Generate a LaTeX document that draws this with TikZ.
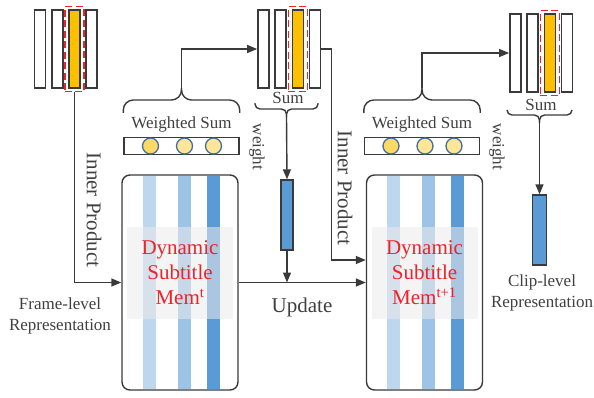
\documentclass[tikz,border=0pt]{standalone}
\usepackage{fontspec}
\setmainfont{Liberation Serif}
\usetikzlibrary{positioning,calc,arrows.meta}
\definecolor{lineg}{HTML}{3A3A3A}
\definecolor{txtg}{HTML}{404040}
\definecolor{selred}{HTML}{EE2229}
\definecolor{goldbar}{HTML}{FFC000}
\definecolor{colA}{HTML}{BDD7EE}
\definecolor{colB}{HTML}{9DC3E6}
\definecolor{colC}{HTML}{5B9BD5}
\definecolor{dotA}{HTML}{FFD966}
\definecolor{dotB}{HTML}{FFE699}
\definecolor{dotedge}{HTML}{41719C}
\definecolor{veilgray}{HTML}{EBEBEB}
\tikzset{
    featbar/.style={ % one feature column
        draw=lineg,
        line width=1.7pt,
        fill=white,
        minimum width=11pt,
        minimum height=78pt,
        inner sep=0pt
    },
    selbar/.style={featbar, fill=goldbar},
    selbox/.style={
        draw=selred,
        line width=1.5pt,
        dash pattern=on 7pt off 3.5pt,
        minimum width=19pt,
        minimum height=85pt,
        inner sep=0pt
    },
    wsbox/.style={draw=lineg, line width=1.4pt, fill=white, minimum width=115pt, minimum height=17pt, inner sep=0pt},
    dotnode/.style={draw=dotedge, line width=1.3pt, circle, minimum size=16pt, inner sep=0pt},
    membox/.style={draw=lineg, line width=1.4pt, fill=white, rounded corners=8pt, minimum width=116pt, minimum height=215pt, inner sep=0pt},
    memcol/.style={minimum width=13pt, minimum height=213pt, inner sep=0pt},
    veil/.style={fill=veilgray, fill opacity=0.55, minimum width=106pt, minimum height=92pt, inner sep=0pt},
    memtext/.style={text=selred, align=center, font=\fontsize{21}{25}\selectfont},
    vecbar/.style={draw=lineg, line width=1.4pt, fill=colC, minimum width=12pt, minimum height=70pt, inner sep=0pt},
    lbl/.style={font=\fontsize{17}{21}\selectfont, align=center},
    biglbl/.style={font=\fontsize{21}{25}\selectfont},
    conn/.style={draw=lineg, line width=1.4pt, -{Triangle[length=10pt,width=8pt]}},
    bracepath/.style={draw=lineg, line width=1.4pt}
}
\begin{document}
\begin{tikzpicture}[x=1pt,y=-1pt,text=txtg]
    \useasboundingbox (0,0) rectangle (594,397);

    % frame-level features
    \node[featbar] (f1a) at (40,49) {};
    \node[featbar, right=4.5pt of f1a] (f1b) {};
    \node[selbar, right=4.5pt of f1b] (f1c) {};
    \node[featbar, right=4.5pt of f1c] (f1d) {};
    \node[selbox] (sel1) at (f1c) {};

    % memory slots after first read
    \node[featbar] (f2a) at (263.5,49) {};
    \node[featbar, right=4.5pt of f2a] (f2b) {};
    \node[selbar, right=4.5pt of f2b] (f2c) {};
    \node[featbar, right=4.5pt of f2c] (f2d) {};
    \node[selbox] (sel2) at (f2c) {};

    % memory slots after second read
    \node[featbar] (f3a) at (515.5,53) {};
    \node[featbar, right=4.5pt of f3a] (f3b) {};
    \node[selbar, right=4.5pt of f3b] (f3c) {};
    \node[featbar, right=4.5pt of f3c] (f3d) {};
    \node[selbox] (sel3) at (f3c) {};

    % memories
    \foreach \m/\x in {1/180,2/424.5}{
        \node[membox] (mem\m) at (\x,282.5) {};
        \node[memcol, fill=colA] (c\m a) at ([xshift=-31pt]mem\m.center) {};
        \node[memcol, fill=colB] (c\m b) at ([xshift=4pt]mem\m.center) {};
        \node[memcol, fill=colC] (c\m c) at ([xshift=33pt]mem\m.center) {};
        \node[veil] (ov\m) at ([yshift=9.5pt]mem\m.center) {};
    }
    \node[memtext] (mt1) at (ov1) {Dynamic\\Subtitle\\Mem\textsuperscript{t}};
    \node[memtext] (mt2) at (ov2) {Dynamic\\Subtitle\\Mem\textsuperscript{t+1}};

    % weight vectors
    \foreach \w/\x in {1/181.5,2/422}{
        \node[wsbox] (ws\w) at (\x,146) {};
        \node[dotnode, fill=dotA] (d\w a) at ([xshift=-31pt]ws\w.center) {};
        \node[dotnode, fill=dotB] (d\w b) at ([xshift=3pt]ws\w.center) {};
        \node[dotnode, fill=dotB] (d\w c) at ([xshift=32pt]ws\w.center) {};
        \node[lbl, above=1pt of ws\w] (wsl\w) {Weighted Sum};
        \coordinate (wt\w) at (\x,88);
        \draw[bracepath, rounded corners=10pt] ([yshift=24pt]ws\w.north west) |- (\x,100) -- (wt\w);
        \draw[bracepath, rounded corners=10pt] ([yshift=24pt]ws\w.north east) |- (\x,100) -- (wt\w);
    }

    % sum braces
    \node[lbl] (sum2) at (288,98) {Sum};
    \coordinate (st2) at (286.5,117);
    \draw[bracepath, rounded corners=5pt] (255,103) |- (286.5,109) -- (st2);
    \draw[bracepath, rounded corners=5pt] (318,103) |- (286.5,109) -- (st2);
    \node[lbl] (sum3) at (541,105) {Sum};
    \coordinate (st3) at (539.5,123);
    \draw[bracepath, rounded corners=5pt] (507,110) |- (539.5,115) -- (st3);
    \draw[bracepath, rounded corners=5pt] (572,110) |- (539.5,115) -- (st3);

    % read-out vectors
    \node[vecbar] (vec1) at (287,215) {};
    \node[vecbar, minimum width=14pt] (vec2) at (539.5,230) {};

    % labels
    \node[biglbl, rotate=-90] (ip1) at (94,210) {Inner Product};
    \node[biglbl, rotate=-90] (ip2) at (345,188) {Inner Product};
    \node[lbl, rotate=-90] (wl1) at (257,147) {weight};
    \node[lbl, rotate=-90] (wl2) at (497,147) {weight};
    \node[biglbl] (upd) at (302,307) {Update};
    \node[lbl] (frl) at (60,316) {Frame-level\\Representation};
    \node[lbl] (cll) at (542,293) {Clip-level\\Representation};

    % connectors
    \draw[conn] (sel1.south) |- (mem1.west);
    \draw[conn] (wt1) |- (f2a.west);
    \draw[conn] (f2d.east) -- ++(10,0) |- ([yshift=22.5pt]mem2.west);
    \draw[conn] (st2) -- (vec1.north);
    \draw[conn] (vec1.south) -- (vec1.south |- mem1.east);
    \draw[conn] (mem1.east) -- (mem2.west);
    \draw[conn] (wt2) |- (f3a.west);
    \draw[conn] (st3) -- (vec2.north);
\end{tikzpicture}
\end{document}
